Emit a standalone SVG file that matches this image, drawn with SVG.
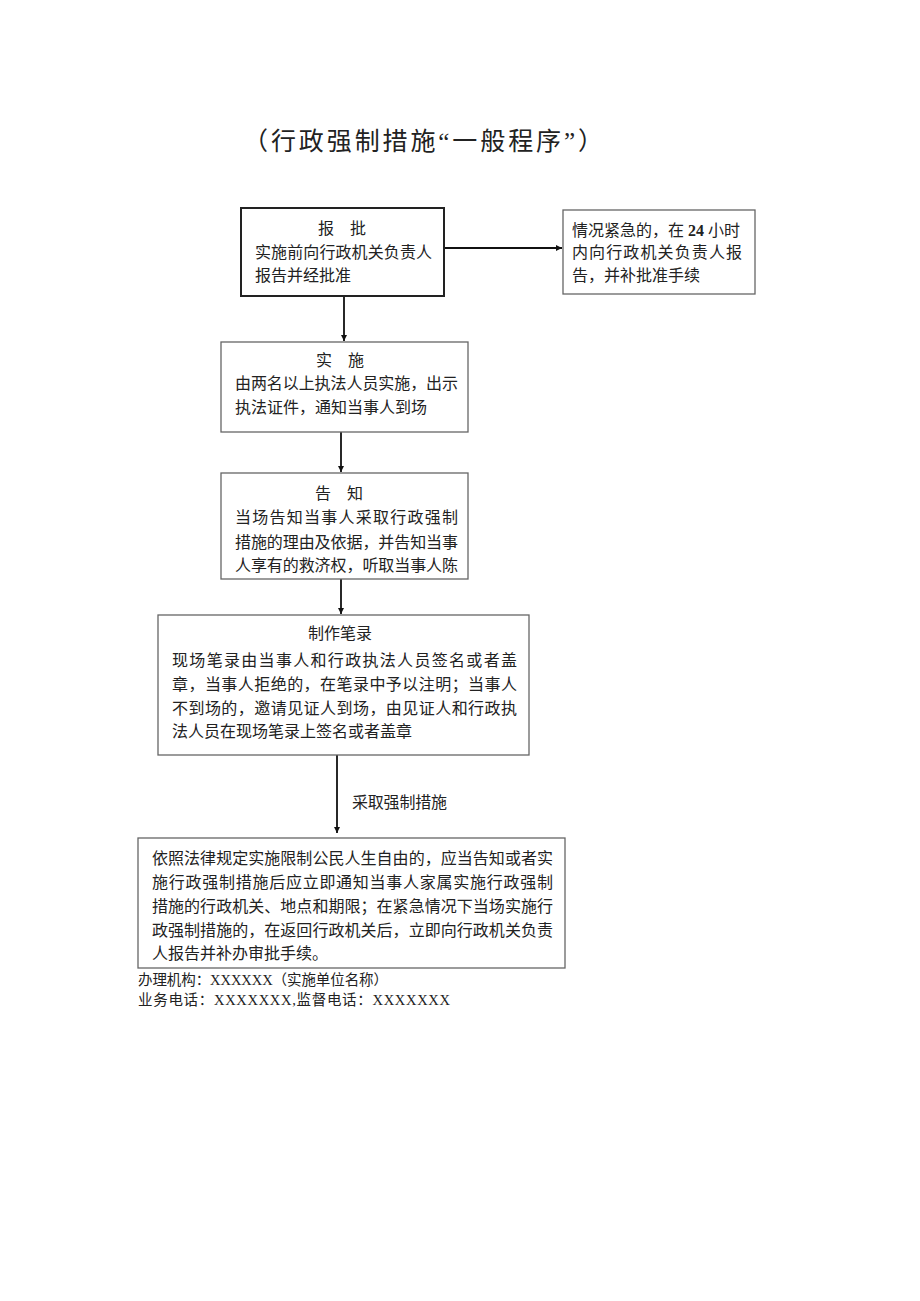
<svg xmlns="http://www.w3.org/2000/svg" width="920" height="1301" viewBox="0 0 920 1301">
<style>
text{font-family:"Liberation Serif","Noto Sans CJK SC",serif;fill:#222;font-size:16px}
.t{font-size:25px}
.c{text-anchor:middle}
.f{font-size:14.5px}
.box{fill:#fff;stroke:#666;stroke-width:1.3}
.box1{fill:#fff;stroke:#222;stroke-width:2}
.con{stroke:#111;stroke-width:1.8;fill:none}
</style>
<defs>
<marker id="ah" viewBox="0 0 10 10" refX="10" refY="5" markerWidth="6" markerHeight="6" orient="auto" markerUnits="userSpaceOnUse"><path d="M0,0 L10,5 L0,10 z" fill="#111"/></marker>
</defs>
<rect width="920" height="1301" fill="#fff"/>
<text class="t" x="243" y="150" textLength="360" lengthAdjust="spacing">（行政强制措施“一般程序”）</text>

<g id="connectors">
<line class="con" x1="444" y1="248" x2="562" y2="248" marker-end="url(#ah)"/>
<line class="con" x1="344" y1="297" x2="344" y2="341" marker-end="url(#ah)"/>
<line class="con" x1="341" y1="432" x2="341" y2="472" marker-end="url(#ah)"/>
<line class="con" x1="341" y1="579" x2="341" y2="614" marker-end="url(#ah)"/>
<line class="con" x1="337" y1="755" x2="337" y2="833" marker-end="url(#ah)"/>
<text x="352" y="808" textLength="95">采取强制措施</text>
</g>

<g id="n1">
<rect class="box1" x="241" y="208" width="203" height="88"/>
<text class="c" x="342" y="234">报　批</text>
<text x="255" y="258" textLength="177">实施前向行政机关负责人</text>
<text x="255" y="281">报告并经批准</text>
</g>

<g id="n2">
<rect class="box" x="563" y="210" width="192" height="84"/>
<text x="572" y="236">情况紧急的，在 <tspan font-weight="bold">24</tspan> 小时</text>
<text x="572" y="258" textLength="170">内向行政机关负责人报</text>
<text x="572" y="281">告，并补批准手续</text>
</g>

<g id="n3">
<rect class="box" x="221" y="342" width="247" height="90"/>
<text class="c" x="340" y="366">实　施</text>
<text x="235" y="389" textLength="223">由两名以上执法人员实施，出示</text>
<text x="235" y="413">执法证件，通知当事人到场</text>
</g>

<g id="n4">
<rect class="box" x="221" y="473" width="247" height="106"/>
<text class="c" x="339" y="499">告　知</text>
<text x="235" y="523" textLength="223">当场告知当事人采取行政强制</text>
<text x="235" y="548" textLength="223">措施的理由及依据，并告知当事</text>
<text x="235" y="571" textLength="223">人享有的救济权，听取当事人陈</text>
</g>

<g id="n5">
<rect class="box" x="158" y="615" width="371" height="140"/>
<text class="c" x="340" y="639">制作笔录</text>
<text x="172" y="666" textLength="345">现场笔录由当事人和行政执法人员签名或者盖</text>
<text x="172" y="690" textLength="345">章，当事人拒绝的，在笔录中予以注明；当事人</text>
<text x="172" y="714" textLength="345">不到场的，邀请见证人到场，由见证人和行政执</text>
<text x="172" y="737">法人员在现场笔录上签名或者盖章</text>
</g>

<g id="n6">
<rect class="box" x="138" y="838" width="427" height="130"/>
<text x="152" y="864" textLength="401">依照法律规定实施限制公民人生自由的，应当告知或者实</text>
<text x="152" y="888" textLength="401">施行政强制措施后应立即通知当事人家属实施行政强制</text>
<text x="152" y="912" textLength="401">措施的行政机关、地点和期限；在紧急情况下当场实施行</text>
<text x="152" y="936" textLength="401">政强制措施的，在返回行政机关后，立即向行政机关负责</text>
<text x="152" y="959">人报告并补办审批手续。</text>
</g>

<g id="footer">
<text class="f" x="138" y="985" textLength="250">办理机构：XXXXXX（实施单位名称）</text>
<text class="f" x="138" y="1005" textLength="312">业务电话：XXXXXXX,监督电话：XXXXXXX</text>
</g>
</svg>
